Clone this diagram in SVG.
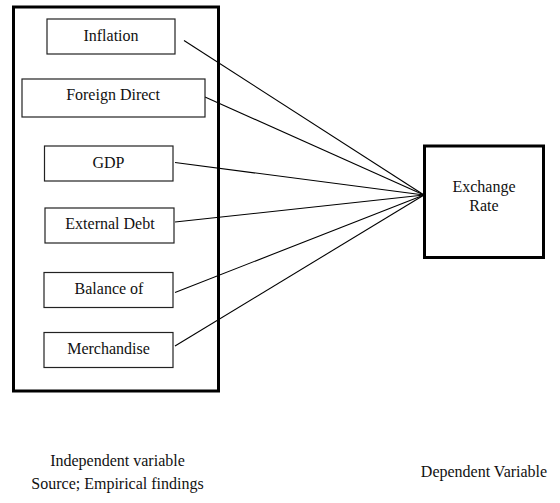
<svg xmlns="http://www.w3.org/2000/svg" width="560" height="503" viewBox="0 0 560 503" font-family="Liberation Serif, DejaVu Serif, serif" font-size="16">
<style>
.frame{fill:#fff;stroke:#000;stroke-width:3}
.box{fill:#fff;stroke:#222;stroke-width:1.2}
.ln{stroke:#000;stroke-width:1.1;fill:none}
</style>
<rect width="560" height="503" fill="#fff"/>
<g id="independent-frame"><rect class="frame" x="13.5" y="7" width="205" height="384"/></g>
<g id="connectors">
<line class="ln" x1="184" y1="40.5" x2="424" y2="195"/>
<line class="ln" x1="205" y1="97" x2="424" y2="195"/>
<line class="ln" x1="175" y1="162.5" x2="424" y2="195"/>
<line class="ln" x1="175" y1="222" x2="424" y2="195"/>
<line class="ln" x1="175" y1="292.5" x2="424" y2="195"/>
<line class="ln" x1="175" y1="346" x2="424" y2="195"/>
</g>
<g fill="#111" text-anchor="middle">
<g id="inflation"><rect class="box" x="47" y="19" width="128" height="35"/><text x="111" y="41">Inflation</text></g>
<g id="fdi"><rect class="box" x="22" y="79" width="183" height="38"/><text x="113" y="100">Foreign Direct</text></g>
<g id="gdp"><rect class="box" x="44.5" y="146" width="128.5" height="35"/><text x="108.5" y="168">GDP</text></g>
<g id="external-debt"><rect class="box" x="45" y="208" width="129" height="35"/><text x="110" y="228.5">External Debt</text></g>
<g id="balance"><rect class="box" x="44" y="272.5" width="129" height="35"/><text x="109" y="293.5">Balance of</text></g>
<g id="merchandise"><rect class="box" x="44" y="332.5" width="129" height="35"/><text x="108.5" y="353.5">Merchandise</text></g>
<g id="exchange-rate"><rect class="frame" x="424.5" y="146" width="119" height="111.5"/><text x="484" y="191.5">Exchange</text><text x="484" y="210.5">Rate</text></g>
<g id="labels">
<text x="117.5" y="466">Independent variable</text>
<text x="117.5" y="489">Source; Empirical findings</text>
<text x="484" y="476.5">Dependent Variable</text>
</g>
</g>
</svg>
